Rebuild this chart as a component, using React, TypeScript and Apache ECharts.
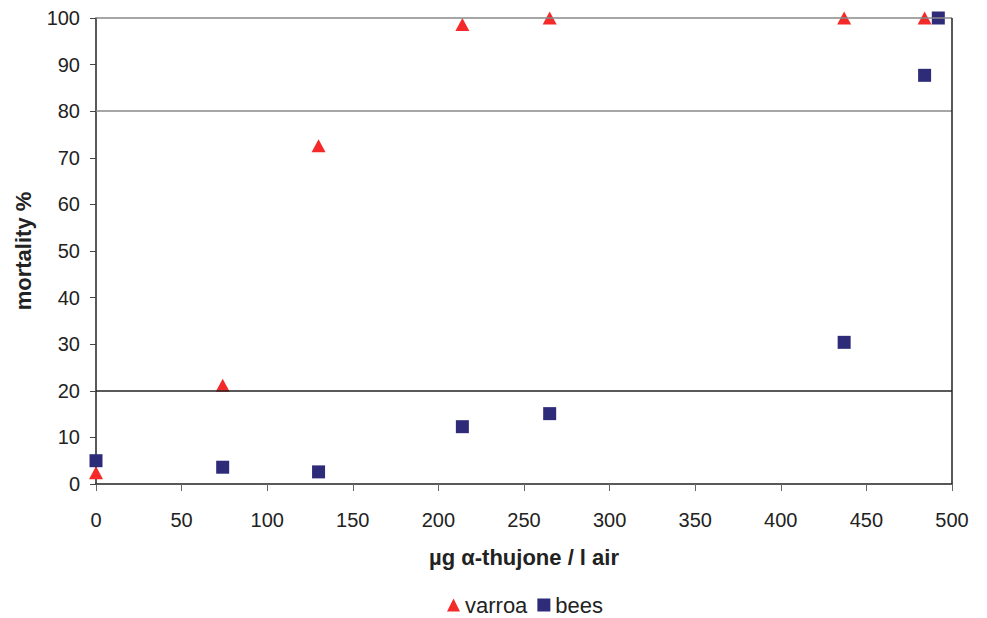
import React, { useEffect, useRef } from "react";
import * as echarts from "echarts";

const varroaX = [0, 74, 130, 214, 265, 437, 484];
const varroaY = [2.4, 21.2, 72.6, 98.6, 100, 100, 100];
const beesX = [0, 74, 130, 214, 265, 437, 484, 492];
const beesY = [5, 3.6, 2.6, 12.3, 15.1, 30.4, 87.7, 100];
const xTicks = { min: 0, max: 500, interval: 50 };
const yTicks = { min: 0, max: 100, interval: 10 };
const refLinesY = [100, 80, 20];

const FONT = "'Liberation Sans', Arial, sans-serif";

export default function App() {
  const ref = useRef<HTMLDivElement>(null);
  useEffect(() => {
    if (!ref.current) return;
    const chart = echarts.init(ref.current, null, { renderer: "svg" });
    chart.setOption({
      animation: false,
      backgroundColor: "#fff",
      textStyle: { fontFamily: FONT },
      grid: { left: 96, right: 35, top: 18, bottom: 134 },
      legend: {
        top: 594,
        left: 447,
        padding: 0,
        itemWidth: 13,
        itemHeight: 13,
        itemGap: 10,
        textStyle: { fontSize: 22, color: "#222", fontFamily: FONT },
        data: [
          { name: "varroa", icon: "triangle" },
          { name: "bees", icon: "rect" },
        ],
      },
      xAxis: {
        type: "value",
        ...xTicks,
        name: "µg α-thujone / l air",
        nameLocation: "middle",
        nameGap: 62,
        nameTextStyle: { fontSize: 22, fontWeight: "bold", color: "#222", fontFamily: FONT },
        axisLine: { show: true, lineStyle: { color: "#222", width: 1.5 } },
        axisTick: { show: true, length: 7, lineStyle: { color: "#666" } },
        axisLabel: { fontSize: 20, color: "#222", margin: 26, fontFamily: FONT },
        splitLine: { show: false },
      },
      yAxis: {
        type: "value",
        ...yTicks,
        name: "mortality %",
        nameLocation: "middle",
        nameGap: 62,
        nameTextStyle: { fontSize: 22, fontWeight: "bold", color: "#222", fontFamily: FONT },
        axisLine: { show: true, lineStyle: { color: "#222", width: 1.5 } },
        axisTick: { show: true, length: 6, lineStyle: { color: "#444" } },
        axisLabel: { fontSize: 20, color: "#222", margin: 16, fontFamily: FONT },
        splitLine: { show: false },
      },
      series: [
        {
          name: "frame",
          type: "scatter",
          data: [],
          silent: true,
          z: 1,
          markLine: {
            silent: true,
            symbol: "none",
            label: { show: false },
            animation: false,
            data: [
              ...refLinesY.map((v) => ({
                yAxis: v,
                lineStyle: { color: v === 20 ? "#222" : "#888", width: 1.5, type: "solid" },
              })),
              { xAxis: xTicks.max, lineStyle: { color: "#222", width: 1.5, type: "solid" } },
            ],
          },
        },
        {
          name: "varroa",
          type: "scatter",
          symbol: "triangle",
          symbolSize: [14, 13],
          clip: false,
          z: 3,
          itemStyle: { color: "#f42a2a", opacity: 1 },
          data: varroaX.map((x, i) => [x, varroaY[i]]),
        },
        {
          name: "bees",
          type: "scatter",
          symbol: "rect",
          symbolSize: 13,
          clip: false,
          z: 3,
          itemStyle: { color: "#2e2b78", opacity: 1 },
          data: beesX.map((x, i) => [x, beesY[i]]),
        },
      ],
    });
    return () => chart.dispose();
  }, []);
  return <div ref={ref} style={{ width: 987, height: 618, margin: "-8px -8px 0 -8px" }} />;
}
